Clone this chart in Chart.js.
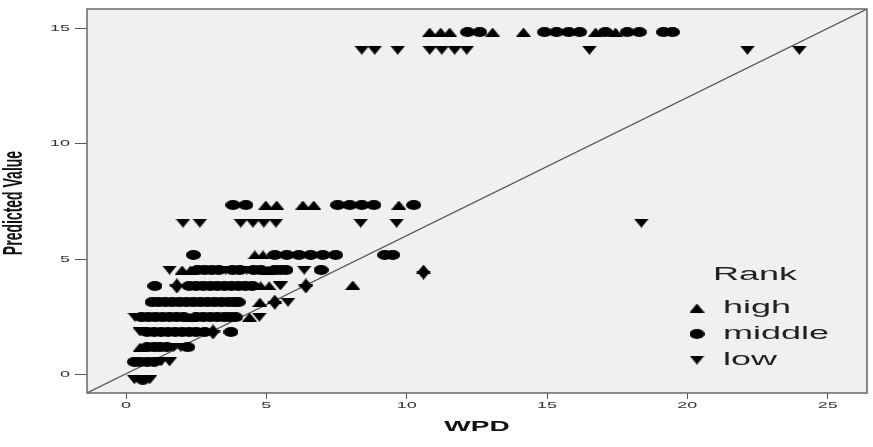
<!DOCTYPE html>
<html>
<head>
<meta charset="utf-8">
<script src="https://cdn.jsdelivr.net/npm/chart.js@4.4.0/dist/chart.umd.min.js"></script>
<style>
  html, body { margin: 0; padding: 0; background: #fff; overflow: hidden; }
  canvas { display: block; }
</style>
</head>
<body>
<canvas id="grafico" width="873" height="447"></canvas>
<script>
//---------------------- dados ------------------------------------------
const xTicks = [0, 5, 10, 15, 20, 25];
const yTicks = [0, 5, 10, 15];
const xRange = [-1.39, 26.4];
const yRange = [-0.78, 15.83];
const refLineX = [-1.39, 26.4];
const refLineY = [-0.78, 15.83];
const rankLabels = ["high", "middle", "low"];

// each row: [predicted value, [WPD values ...]]
const highRows = [
  [14.83, [10.82, 11.21, 11.53, 13.06, 14.16, 16.73, 17.44]],
  [7.35, [4.98, 5.37, 6.3, 6.69, 9.72]],
  [5.19, [4.59, 4.88]],
  [4.58, [10.6]],
  [4.54, [2.0, 2.3, 5.05]],
  [3.98, [1.81, 6.41]],
  [3.89, [8.08]],
  [3.85, [4.8, 5.1]],
  [3.28, [5.3]],
  [3.15, [4.77]],
  [2.5, [2.25, 4.4]],
  [1.99, [3.1]],
  [1.2, [0.5]]
];
const middleRows = [
  [14.83, [12.17, 12.6, 14.91, 15.34, 15.77, 16.16, 17.08, 17.86, 18.29, 19.15, 19.47]],
  [7.35, [3.81, 4.27, 7.54, 7.97, 8.4, 8.83, 10.25]],
  [5.19, [2.4, 5.3, 5.73, 6.16, 6.58, 7.01, 7.47, 9.22, 9.5]],
  [4.54, [2.55, 2.8, 3.05, 3.3, 3.8, 4.05, 4.55, 4.8, 5.3, 5.5, 5.7, 6.95]],
  [3.85, [1.03, 2.25, 2.5, 2.75, 3.0, 3.25, 3.5, 3.75, 4.0, 4.25, 4.5]],
  [3.15, [0.93, 1.15, 1.4, 1.65, 1.9, 2.15, 2.4, 2.65, 2.9, 3.15, 3.4, 3.65, 3.85, 4.0]],
  [2.5, [0.55, 0.8, 1.05, 1.3, 1.55, 1.8, 2.05, 2.5, 2.75, 3.0, 3.25, 3.5, 3.7, 3.9]],
  [1.86, [0.75, 1.0, 1.25, 1.5, 1.75, 2.0, 2.25, 2.5, 2.8, 3.74]],
  [1.2, [0.75, 1.0, 1.2, 1.45, 2.2]],
  [0.57, [0.3, 0.5, 0.75, 1.0]],
  [-0.2, [0.6]]
];
const lowRows = [
  [14.05, [8.4, 8.86, 9.68, 10.82, 11.25, 11.71, 12.14, 16.51, 22.14, 23.99]],
  [6.57, [2.03, 2.63, 4.09, 4.52, 4.91, 5.34, 8.36, 9.64, 18.36]],
  [4.54, [1.55, 3.55, 4.3, 6.35]],
  [4.32, [10.6]],
  [3.85, [5.5]],
  [3.72, [1.81, 6.41]],
  [3.15, [5.77]],
  [3.02, [5.3]],
  [2.5, [0.32, 4.75]],
  [1.86, [0.5]],
  [1.73, [3.1]],
  [1.2, [1.7, 1.95]],
  [0.57, [1.25, 1.55]],
  [-0.2, [0.3, 0.5, 0.7, 0.85]]
];

//---------------------- marcadores -------------------------------------
function marker(shape) {
  const c = document.createElement("canvas");
  c.width = 15;
  c.height = shape === "circle" ? 10 : 9;
  const g = c.getContext("2d");
  g.fillStyle = "#000";
  g.beginPath();
  if (shape === "up") { g.moveTo(7.5, 0); g.lineTo(15, 9); g.lineTo(0, 9); }
  else if (shape === "down") { g.moveTo(0, 0); g.lineTo(15, 0); g.lineTo(7.5, 9); }
  else { g.ellipse(7.5, 5, 7.5, 5, 0, 0, Math.PI * 2); }
  g.closePath();
  g.fill();
  return c;
}
const markers = [marker("up"), marker("circle"), marker("down")];

const toPoints = rows => rows.flatMap(([y, xs]) => xs.map(x => ({ x: x, y: y })));

function wideText(ctx, txt, x, y, font, align) {
  ctx.save();
  ctx.font = font;
  ctx.textAlign = align;
  ctx.textBaseline = "middle";
  ctx.translate(x, y);
  ctx.scale(2, 1);
  ctx.fillText(txt, 0, 0);
  ctx.restore();
}

//---------------------- plugin: fundo, moldura, textos ------------------
const moldura = {
  id: "moldura",
  beforeDraw(chart) {
    const { ctx, chartArea: a } = chart;
    ctx.save();
    ctx.fillStyle = "#fff";
    ctx.fillRect(0, 0, chart.width, chart.height);
    ctx.fillStyle = "#f0f0f0";
    ctx.fillRect(a.left, a.top, a.right - a.left, a.bottom - a.top);
    ctx.restore();
  },
  afterDraw(chart) {
    const { ctx, chartArea: a } = chart;
    ctx.save();
    ctx.strokeStyle = "#666";
    ctx.lineWidth = 1.5;
    ctx.strokeRect(a.left, a.top, a.right - a.left, a.bottom - a.top);
    ctx.fillStyle = "#333";
    chart.scales.y.ticks.forEach(t => {
      wideText(ctx, String(t.value), 70, chart.scales.y.getPixelForValue(t.value), '9px "Liberation Sans", Arial', "right");
    });
    chart.scales.x.ticks.forEach(t => {
      wideText(ctx, String(t.value), chart.scales.x.getPixelForValue(t.value), 406, '9px "Liberation Sans", Arial', "center");
    });
    // axis titles
    ctx.fillStyle = "#111";
    wideText(ctx, "WPD", (a.left + a.right) / 2, 427, 'bold 14px "Liberation Sans", Arial', "center");
    ctx.save();
    ctx.translate(14, 203);
    ctx.scale(2, 1);
    ctx.rotate(-Math.PI / 2);
    ctx.font = 'bold 14px "Liberation Sans", Arial';
    ctx.textAlign = "center";
    ctx.textBaseline = "middle";
    ctx.fillText("Predicted Value", 0, 0);
    ctx.restore();
    // legend
    ctx.fillStyle = "#222";
    wideText(ctx, "Rank", 713, 275, '18px "Liberation Sans", Arial', "left");
    rankLabels.forEach((lab, i) => {
      const y = 308 + i * 26;
      const m = markers[i];
      ctx.drawImage(m, 697 - m.width / 2, y - m.height / 2);
      wideText(ctx, lab, 723, y, '18px "Liberation Sans", Arial', "left");
    });
    ctx.restore();
  }
};

//---------------------- gráfico ----------------------------------------
const series = [highRows, middleRows, lowRows];

let grafico = new Chart(document.getElementById("grafico"), {
  type: "scatter",
  data: {
    datasets: [
      ...series.map((rows, i) => ({
        label: rankLabels[i],
        data: toPoints(rows),
        pointStyle: markers[i],
        pointRadius: 5,
        pointHoverRadius: 5
      })),
      {
        type: "line",
        label: "ref",
        data: refLineX.map((x, i) => ({ x: x, y: refLineY[i] })),
        borderColor: "#555",
        borderWidth: 1.2,
        pointRadius: 0
      }
    ]
  },
  options: {
    responsive: false,
    animation: false,
    devicePixelRatio: 1,
    layout: { padding: { top: 9, right: 5, left: 0, bottom: 0 } },
    plugins: { legend: { display: false }, tooltip: { enabled: false } },
    scales: {
      x: {
        type: "linear", min: xRange[0], max: xRange[1],
        ticks: { stepSize: 5, includeBounds: false, display: false },
        grid: { drawOnChartArea: false, drawTicks: true, tickLength: 6, color: "#555" },
        border: { display: false },
        afterBuildTicks: s => { s.ticks = xTicks.map(v => ({ value: v })); },
        afterFit: s => { s.height = 54; }
      },
      y: {
        type: "linear", min: yRange[0], max: yRange[1],
        ticks: { stepSize: 5, includeBounds: false, display: false },
        grid: { drawOnChartArea: false, drawTicks: true, tickLength: 12, color: "#555" },
        border: { display: false },
        afterBuildTicks: s => { s.ticks = yTicks.map(v => ({ value: v })); },
        afterFit: s => { s.width = 87; }
      }
    }
  },
  plugins: [moldura]
});
</script>
</body>
</html>
